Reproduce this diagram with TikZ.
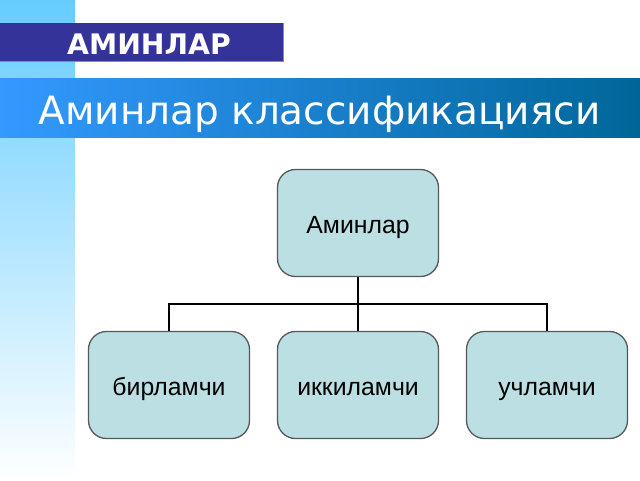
\documentclass[tikz,border=0pt]{standalone}
\usepackage{fontspec}
\setmainfont{Liberation Sans}
\newfontfamily\headfont{DejaVu Sans}
\usetikzlibrary{arrows}
\usetikzlibrary{arrows.meta}
\definecolor{boxfill}{HTML}{BBDFE3}
\definecolor{boxline}{HTML}{55595A}
\definecolor{darkband}{HTML}{333399}
\definecolor{stripblue}{HTML}{66CCFF}
\definecolor{bandleft}{HTML}{3399FF}
\definecolor{bandright}{HTML}{006699}
\tikzset{
    classbox/.style={draw=boxline,fill=boxfill,line width=1.3pt,rounded corners=18pt,
        minimum width=161pt,minimum height=107pt,inner sep=0pt,text height=23pt,text depth=3pt,
        font=\fontsize{24.8}{28}\selectfont},
    branch/.style={black,line width=2.6pt}
}

\begin{document}
\begin{tikzpicture}[x=1pt,y=-1pt]
                \useasboundingbox (0,0) rectangle (640,480);
                \fill[white] (0,0) rectangle (640,480);

                \shade[top color=stripblue,bottom color=white] (0,0) rectangle (75,480);

                \fill[darkband] (0,23) rectangle (283,61);
                \draw[darkband!60,line width=0.5pt] (0,61) -- (283,61) -- (283,23);
                \node[text=white,font=\headfont\bfseries\fontsize{28.3}{32}\selectfont] (section) at (149,44.5) {АМИНЛАР};

                \shade[left color=bandleft,right color=bandright] (0,78) rectangle (640,137.5);
                \node[text=white,font=\headfont\fontsize{39}{46}\selectfont] (title) at (319.5,114) {Аминлар классификацияси};

                \node[classbox] (amines) at (358,223) {Аминлар};
                \node[classbox] (primary) at (169,385) {бирламчи};
                \node[classbox] (secondary) at (358,385) {иккиламчи};
                \node[classbox] (tertiary) at (547,385) {учламчи};

                \coordinate (bus) at (358,304);
                \draw[branch] (amines.south) -- (bus);
                \foreach \child in {primary,secondary,tertiary}{
                    \draw[branch] (bus) -| (\child.north);
                }
\end{tikzpicture}
\end{document}
